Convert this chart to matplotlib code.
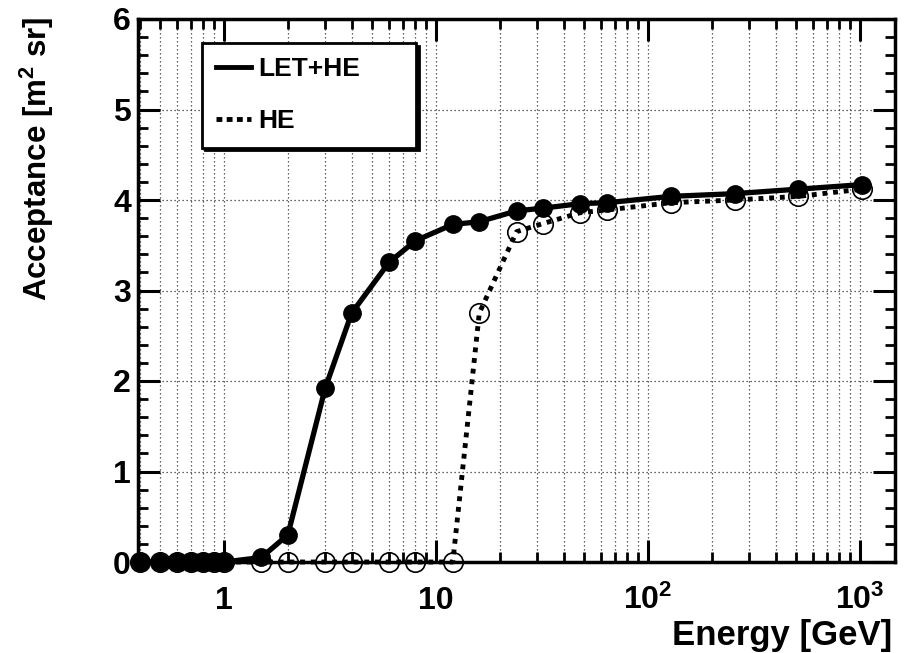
import matplotlib
matplotlib.use("Agg")
import matplotlib.pyplot as plt
from matplotlib.ticker import FixedLocator, FixedFormatter, LogLocator, NullFormatter, MultipleLocator
from matplotlib.lines import Line2D

# ---- data ----
energy = [0.4, 0.5, 0.6, 0.7, 0.8, 0.9, 1.0, 1.5, 2, 3, 4, 6, 8, 12, 16, 24, 32, 48, 64, 128, 256, 512, 1024]
acc_let_he = [0, 0, 0, 0, 0, 0, 0, 0.05, 0.30, 1.92, 2.75, 3.31, 3.55, 3.73, 3.76, 3.88, 3.91, 3.96, 3.97,
              4.04, 4.07, 4.12, 4.17]
acc_he = [0, 0, 0, 0, 0, 0, 0, 0, 0, 0, 0, 0, 0, 0, 2.75, 3.65, 3.74, 3.86, 3.89, 3.97, 4.00, 4.04, 4.12]
xtick_vals = [1, 10, 100, 1000]
xtick_labels = ["1", "10", "10$^{2}$", "10$^{3}$"]
ytick_vals = [0, 1, 2, 3, 4, 5, 6]
series_names = ["LET+HE", "HE"]

plt.rcParams["font.family"] = ["Liberation Sans", "DejaVu Sans"]
plt.rcParams["font.weight"] = "bold"
plt.rcParams["mathtext.fontset"] = "custom"
plt.rcParams["mathtext.rm"] = "Liberation Sans:bold"
plt.rcParams["mathtext.it"] = "Liberation Sans:bold"
plt.rcParams["mathtext.bf"] = "Liberation Sans:bold"

fig = plt.figure(figsize=(9.07, 6.53), dpi=100)
ax = fig.add_axes([138 / 907, 1 - 562 / 653, 757 / 907, 543 / 653])

ax.set_xscale("log")
ax.set_xlim(0.3928, 1463)
ax.set_ylim(0, 6)

# grid
grid_kw = dict(color="0.2", linewidth=0.9, linestyle=(0, (1, 2.2)))
ax.xaxis.grid(True, which="both", **grid_kw)
ax.yaxis.grid(True, which="major", **grid_kw)
ax.set_axisbelow(True)

# curves
ax.plot(energy, acc_he, color="black", linewidth=3.5, linestyle=(0, (1, 1.2)),
        marker="o", markersize=14, markerfacecolor="none", markeredgecolor="black",
        markeredgewidth=1.2, clip_on=False, zorder=3)
ax.plot(energy, acc_let_he, color="black", linewidth=3.8, linestyle="-",
        marker="o", markersize=12.5, markerfacecolor="black", markeredgecolor="black",
        clip_on=False, zorder=4)

# ticks
ax.xaxis.set_major_locator(FixedLocator(xtick_vals))
ax.xaxis.set_major_formatter(FixedFormatter(xtick_labels))
ax.xaxis.set_minor_locator(LogLocator(base=10, subs=[2, 3, 4, 5, 6, 7, 8, 9], numticks=20))
ax.xaxis.set_minor_formatter(NullFormatter())
ax.yaxis.set_major_locator(FixedLocator(ytick_vals))
ax.yaxis.set_minor_locator(MultipleLocator(0.2))

ax.tick_params(which="both", direction="in", top=True, right=True, color="black")
ax.tick_params(which="major", length=16, width=2.2)
ax.tick_params(which="minor", length=7, width=2.0)
ax.tick_params(axis="x", which="major", labelsize=23, pad=33.5)
ax.tick_params(axis="y", which="major", labelsize=23, pad=5)
for lbl in ax.get_xticklabels():
    lbl.set_verticalalignment("baseline")
    lbl.set_fontweight("bold")
for lbl in ax.get_yticklabels():
    lbl.set_fontweight("bold")

for sp in ax.spines.values():
    sp.set_linewidth(2.5)
    sp.set_zorder(5)

# axis titles
ax.set_xlabel("Energy [GeV]", fontsize=25, fontweight="bold", ha="right", va="baseline")
ax.xaxis.set_label_coords(0.997, -0.153)
ax.set_ylabel("Acceptance [m$^{2}$ sr]", fontsize=22.5, fontweight="bold", ha="right", va="center")
ax.yaxis.set_label_coords(-0.1334, 1.004)

# legend
handles = [Line2D([], [], color="black", linewidth=3.5, linestyle="-"),
           Line2D([], [], color="black", linewidth=3.5, linestyle=(0, (1.2, 0.9)))]
leg = ax.legend(handles, series_names, loc="upper left",
                bbox_to_anchor=(0.0845, 0.764, 0.2827, 0.192), mode="expand",
                borderaxespad=0, handlelength=1.3, handletextpad=0.3,
                labelspacing=1.05, borderpad=0.55, fancybox=False,
                shadow={"color": "black", "alpha": 1.0}, framealpha=1,
                prop={"weight": "bold", "size": 19})
leg.get_frame().set_edgecolor("black")
leg.get_frame().set_linewidth(2.0)
leg.set_zorder(6)

fig.savefig("out.png", dpi=100)
